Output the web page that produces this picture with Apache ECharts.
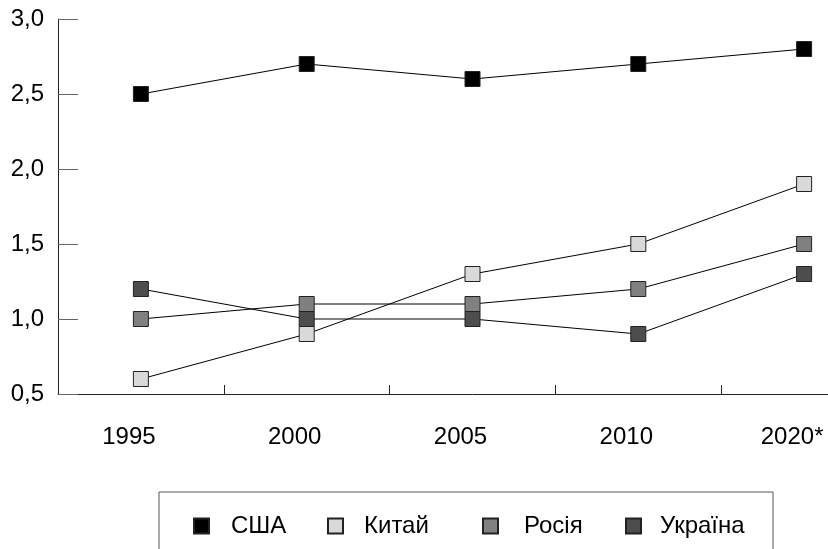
<!DOCTYPE html>
<html>
<head>
<meta charset="utf-8">
<script src="https://cdn.jsdelivr.net/npm/echarts@6/dist/echarts.min.js"></script>
<style>
  html, body { margin: 0; padding: 0; background: #fff; overflow: hidden; }
  /* plot runs past the right edge of the window, as in the original */
  #main { width: 887px; height: 549px; }
</style>
</head>
<body>
<div id="main"></div>
<script>
var years = ['1995', '2000', '2005', '2010', '2020*'];
var names = ['США', 'Китай', 'Росія', 'Україна'];
var usa = [2.5, 2.7, 2.6, 2.7, 2.8];
var china = [0.6, 0.9, 1.3, 1.5, 1.9];
var russia = [1.0, 1.1, 1.1, 1.2, 1.5];
var ukraine = [1.2, 1.0, 1.0, 0.9, 1.3];

var colors = ['#000000', '#d9d9d9', '#808080', '#4d4d4d'];
var values = [usa, china, russia, ukraine];
var font = '"Liberation Sans", Arial, sans-serif';

var chart = echarts.init(document.getElementById('main'), null, { renderer: 'canvas' });

function makeSeries(i) {
  return {
    name: names[i],
    type: 'line',
    data: values[i],
    symbol: 'rect',
    symbolSize: 15,
    lineStyle: { color: '#000', width: 1 },
    itemStyle: { color: colors[i], borderColor: '#222', borderWidth: 1 },
    emphasis: { disabled: true },
    animation: false
  };
}

// legend items sit at uneven places, one legend each
var legendLeft = [188, 322, 477, 620];
var legendGap = [17, 16, 21, 14];
var legends = names.map(function (n, i) {
  return {
    data: [n],
    left: legendLeft[i],
    top: 509,
    icon: 'rect',
    itemWidth: 15,
    itemHeight: 15,
    selectedMode: false,
    textStyle: { fontSize: 24, color: '#000', fontFamily: font, padding: [0, 0, 0, legendGap[i]] }
  };
});

var option = {
  backgroundColor: '#fff',
  grid: { left: 58, top: 19, bottom: 155, right: 0 },
  legend: legends,
  graphic: [{
    type: 'rect',
    shape: { x: 159, y: 492, width: 614, height: 100 },
    style: { fill: 'none', stroke: '#555', lineWidth: 1 },
    silent: true
  }],
  xAxis: {
    type: 'category',
    data: years,
    boundaryGap: true,
    axisLine: { lineStyle: { color: '#222', width: 1 } },
    axisTick: { show: true, inside: true, length: 9, lineStyle: { color: '#222', width: 1 } },
    axisLabel: {
      fontSize: 24, color: '#000', fontFamily: font, margin: 31,
      padding: [0, 24, 0, 0]
    },
    splitLine: { show: false }
  },
  yAxis: {
    type: 'value',
    min: 0.5,
    max: 3.0,
    interval: 0.5,
    axisLine: { show: true, lineStyle: { color: '#222', width: 1 } },
    axisTick: { show: true, inside: true, length: 20, lineStyle: { color: '#666' } },
    axisLabel: {
      fontSize: 24, color: '#000', fontFamily: font, margin: 14,
      formatter: function (v) { return v.toFixed(1).replace('.', ','); }
    },
    splitLine: { show: false }
  },
  series: [0, 1, 2, 3].map(makeSeries)
};

chart.setOption(option);
</script>
</body>
</html>
